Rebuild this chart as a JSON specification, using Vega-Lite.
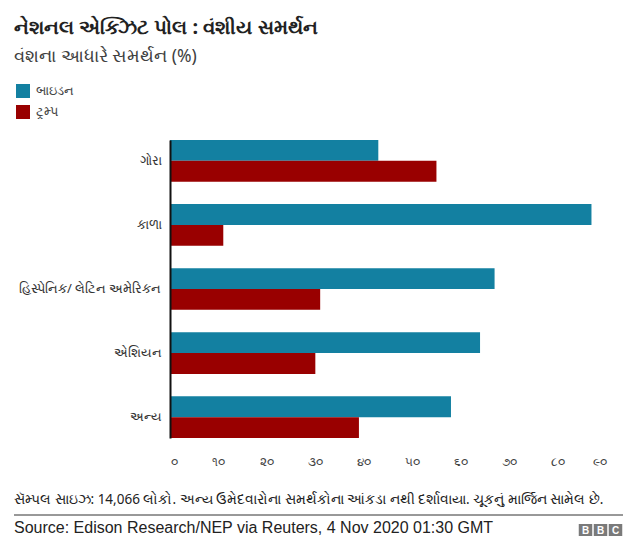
{
  "$schema": "https://vega.github.io/schema/vega-lite/v6.json",
  "width": 436,
  "height": 298,
  "autosize": {"type": "none"},
  "padding": {"left": 170, "top": 140, "right": 34, "bottom": 120},
  "background": "white",
  "config": {"view": {"stroke": null}, "font": "Noto Sans"},
  "title": {
    "text": "નેશનલ એક્ઝિટ પોલ : વંશીય સમર્થન",
    "subtitle": "વંશના આધારે સમર્થન (%)",
    "anchor": "start",
    "frame": "group",
    "dx": -156,
    "offset": 19,
    "fontSize": 20,
    "fontWeight": "bold",
    "color": "#222222",
    "subtitleFontSize": 17.5,
    "subtitleColor": "#404040",
    "subtitlePadding": 10
  },
  "layer": [
    {
      "data": {
        "values": [
          {"group": "ગોરા", "candidate": "બાઇડન", "pct": 43},
          {"group": "ગોરા", "candidate": "ટ્રમ્પ", "pct": 55},
          {"group": "કાળા", "candidate": "બાઇડન", "pct": 87},
          {"group": "કાળા", "candidate": "ટ્રમ્પ", "pct": 11},
          {"group": "હિસ્પેનિક/ લેટિન અમેરિકન", "candidate": "બાઇડન", "pct": 67},
          {"group": "હિસ્પેનિક/ લેટિન અમેરિકન", "candidate": "ટ્રમ્પ", "pct": 31},
          {"group": "એશિયન", "candidate": "બાઇડન", "pct": 64},
          {"group": "એશિયન", "candidate": "ટ્રમ્પ", "pct": 30},
          {"group": "અન્ય", "candidate": "બાઇડન", "pct": 58},
          {"group": "અન્ય", "candidate": "ટ્રમ્પ", "pct": 39}
        ]
      },
      "mark": {"type": "bar"},
      "encoding": {
        "y": {
          "field": "group",
          "type": "nominal",
          "sort": null,
          "scale": {"paddingInner": 0.35, "paddingOuter": 0},
          "axis": {
            "title": null,
            "domain": true,
            "domainColor": "#111111",
            "domainWidth": 2,
            "ticks": false,
            "labelPadding": 9,
            "labelFontSize": 13,
            "labelColor": "#333333",
            "labelLimit": 200,
            "zindex": 1
          }
        },
        "yOffset": {"field": "candidate", "sort": ["બાઇડન", "ટ્રમ્પ"]},
        "x": {
          "field": "pct",
          "type": "quantitative",
          "scale": {"domain": [0, 90], "nice": false},
          "axis": {
            "title": null,
            "domain": false,
            "ticks": false,
            "grid": false,
            "values": [0, 10, 20, 30, 40, 50, 60, 70, 80, 90],
            "labelExpr": "['૦','૧૦','૨૦','૩૦','૪૦','૫૦','૬૦','૭૦','૮૦','૯૦'][round(datum.value / 10)]",
            "labelPadding": 18,
            "labelFontSize": 12,
            "labelColor": "#444444"
          }
        },
        "color": {
          "field": "candidate",
          "type": "nominal",
          "scale": {"domain": ["બાઇડન", "ટ્રમ્પ"], "range": ["#1380A1", "#990000"]},
          "legend": {
            "title": null,
            "orient": "none",
            "legendX": -154,
            "legendY": -56,
            "symbolType": "square",
            "symbolSize": 196,
            "symbolStrokeWidth": 0,
            "labelFontSize": 13,
            "labelColor": "#444444",
            "rowPadding": 7,
            "labelOffset": 6
          }
        }
      }
    },
    {
      "data": {"values": [{"note": "સૅમ્પલ સાઇઝ: 14,066 લોકો. અન્ય ઉમેદવારોના સમર્થકોના આંકડા નથી દર્શાવાયા. ચૂકનું માર્જિન સામેલ છે."}]},
      "mark": {"type": "text", "align": "left", "baseline": "middle", "fontSize": 13.5, "color": "#222222"},
      "encoding": {"x": {"value": -156}, "y": {"value": 360}, "text": {"field": "note"}}
    },
    {
      "data": {"values": [{}]},
      "mark": {"type": "rule", "color": "#333333", "strokeWidth": 1},
      "encoding": {"x": {"value": -156}, "x2": {"value": 453}, "y": {"value": 375}}
    },
    {
      "data": {"values": [{"source": "Source: Edison Research/NEP via Reuters, 4 Nov 2020 01:30 GMT"}]},
      "mark": {"type": "text", "align": "left", "baseline": "middle", "fontSize": 16, "font": "Liberation Sans", "color": "#222222"},
      "encoding": {"x": {"value": -156}, "y": {"value": 388}, "text": {"field": "source"}}
    },
    {
      "data": {"values": [{"letter": "B", "x": 415.5}, {"letter": "B", "x": 430.5}, {"letter": "C", "x": 445.5}]},
      "layer": [
        {
          "mark": {"type": "rect", "color": "#7a7a7a", "width": 13.5, "height": 12},
          "encoding": {"x": {"field": "x", "type": "quantitative", "scale": null}, "y": {"value": 390}}
        },
        {
          "mark": {"type": "text", "align": "center", "baseline": "middle", "fontSize": 10, "fontWeight": "bold", "font": "Liberation Sans", "color": "white"},
          "encoding": {"x": {"field": "x", "type": "quantitative", "scale": null}, "y": {"value": 390.5}, "text": {"field": "letter"}}
        }
      ]
    }
  ]
}
